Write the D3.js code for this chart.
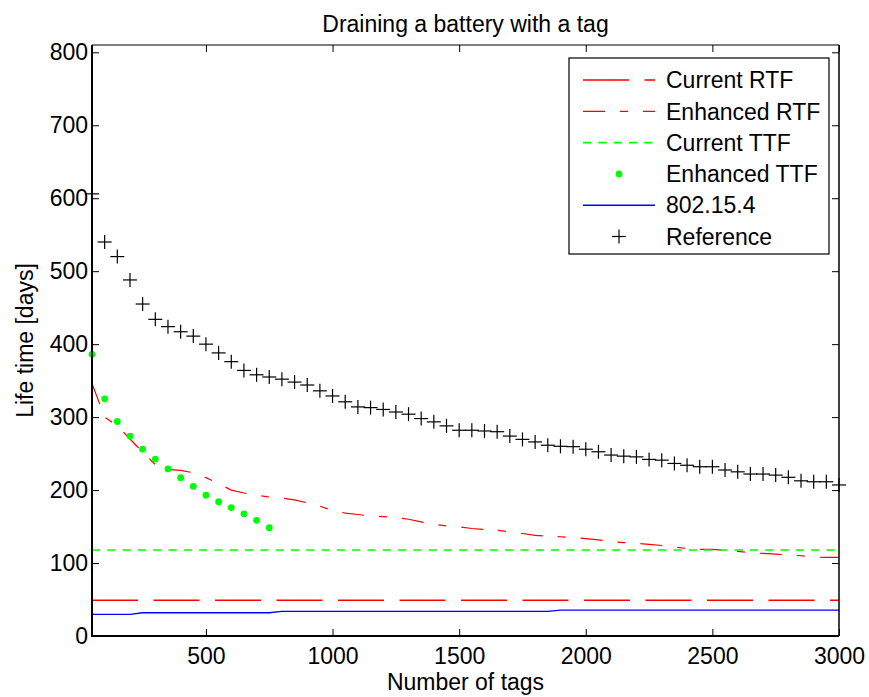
<!DOCTYPE html>
<html>
<head>
<meta charset="utf-8">
<script src="https://cdn.jsdelivr.net/npm/d3@7"></script>
<style>
  html, body { margin: 0; padding: 0; background: #fff; }
  svg { display: block; }
  text { font-family: "Liberation Sans", Arial, Helvetica, sans-serif; fill: #000; }
</style>
</head>
<body>
<svg id="chart" width="869" height="697"></svg>
<script>
// ---------------- DATA ----------------
const chartTitle = "Draining a battery with a tag";
const xLabel = "Number of tags";
const yLabel = "Life time [days]";

const xTicks = [500, 1000, 1500, 2000, 2500, 3000];
const yTicks = [0, 100, 200, 300, 400, 500, 600, 700, 800];

const seriesNames = ["Current RTF", "Enhanced RTF", "Current TTF", "Enhanced TTF", "802.15.4", "Reference"];

// Reference (+ markers)
const refTags = [50,100,150,200,250,300,350,400,450,500,550,600,650,700,750,800,850,900,950,1000,
  1050,1100,1150,1200,1250,1300,1350,1400,1450,1500,1550,1600,1650,1700,1750,1800,1850,1900,1950,2000,
  2050,2100,2150,2200,2250,2300,2350,2400,2450,2500,2550,2600,2650,2700,2750,2800,2850,2900,2950,3000];
const refLife = [606,540,520,488,455,434,424,417,411,400,388,376,364,358,355,352,348,344,336,329,
  321,314,313,310.5,307,304,298,293.5,288,282,282,281,280,274,269.5,266,261.5,260,259.5,256,
  252.5,248,246.5,245.5,242,241,236.5,234,232,232,227.5,225,222,222,220.5,217.5,212.7,211.4,211.4,207];

// Enhanced RTF (dash-dot red)
const eRtfTags = [50,100,150,200,250,300,350,400,450,500,550,600,650,700,750,800,850,900,950,1000,
  1050,1100,1150,1200,1250,1300,1350,1400,1450,1500,1550,1600,1650,1700,1750,1800,1850,1900,1950,2000,
  2050,2100,2150,2200,2250,2300,2350,2400,2450,2500,2550,2600,2650,2700,2750,2800,2850,2900,2950,3000];
const eRtfLife = [346,300,288,270,252,235,228,227,223.7,217,209,200,196,193,190.5,189,186.5,182.5,178,172,
  168.5,166.5,164.5,163.6,162.5,160,156.5,153,150.8,149.5,147.3,146,144.8,142.8,140.5,138,136.5,136,134.8,133.5,
  131.8,129.5,128,127,125.6,124,122,120,118.8,118.8,117.5,116,114,113.2,112.3,111,110,108,107.8,107.8];

// Enhanced TTF (green dots)
const eTtfTags = [50,100,150,200,250,300,350,400,450,500,550,600,650,700,750];
const eTtfLife = [386,325,294,274,256,242.5,229,217,205,193,184,176,167.5,158.5,148.5];

// Current RTF (long-dashed red) and Current TTF (dashed green): constant lines
const cRtfTags = [50, 3000];
const cRtfLife = [49, 49];
const cTtfTags = [50, 3000];
const cTtfLife = [117.8, 117.8];

// 802.15.4 (blue solid)
const zbTags = [50, 200, 250, 750, 800, 1850, 1900, 3000];
const zbLife = [29.7, 29.7, 31.8, 31.8, 33.8, 33.8, 35.5, 35.5];

// ---------------- CHART ----------------
const svg = d3.select("#chart");
const plot = { left: 92, right: 839, top: 45, bottom: 636 };

const x = d3.scaleLinear().domain([50, 3000]).range([plot.left, plot.right]);
const y = d3.scaleLinear().domain([0, 810]).range([plot.bottom, plot.top]);

const FS = 23;

// Axes (ticks inward on all four sides)
const gB = svg.append("g").attr("transform", `translate(0,${plot.bottom})`)
  .call(d3.axisBottom(x).tickValues(xTicks).tickSize(-7).tickPadding(12).tickFormat(d3.format("d")));
const gT = svg.append("g").attr("transform", `translate(0,${plot.top})`)
  .call(d3.axisTop(x).tickValues(xTicks).tickSize(-7).tickFormat(""));
const gL = svg.append("g").attr("transform", `translate(${plot.left},0)`)
  .call(d3.axisLeft(y).tickValues(yTicks).tickSize(-7).tickPadding(4).tickFormat(d3.format("d")));
const gR = svg.append("g").attr("transform", `translate(${plot.right},0)`)
  .call(d3.axisRight(y).tickValues(yTicks).tickSize(-7).tickFormat(""));

[gB, gT, gL, gR].forEach(g => {
  g.select(".domain").remove();
  g.selectAll(".tick line").attr("stroke", "#000").attr("stroke-width", 1);
  g.selectAll(".tick text").style("font-size", FS + "px").attr("fill", "#000")
    .style("font-family", '"Liberation Sans", Arial, sans-serif');
});

// Data lines
const line = d3.line().x(d => x(d[0])).y(d => y(d[1]));

svg.append("path").datum(d3.zip(cRtfTags, cRtfLife)).attr("d", line)
  .attr("fill", "none").attr("stroke", "#ff0000").attr("stroke-width", 1.6)
  .attr("stroke-dasharray", "46,15.5");

svg.append("path").datum(d3.zip(eRtfTags, eRtfLife)).attr("d", line)
  .attr("fill", "none").attr("stroke", "#ff0000").attr("stroke-width", 1.2)
  .attr("stroke-dasharray", "22,15,8,15");

svg.append("path").datum(d3.zip(cTtfTags, cTtfLife)).attr("d", line)
  .attr("fill", "none").attr("stroke", "#00ff00").attr("stroke-width", 1.6)
  .attr("stroke-dasharray", "8.3,7");

svg.append("path").datum(d3.zip(zbTags, zbLife)).attr("d", line)
  .attr("fill", "none").attr("stroke", "#0000ff").attr("stroke-width", 1.4);

svg.append("g").selectAll("circle").data(d3.zip(eTtfTags, eTtfLife)).join("circle")
  .attr("cx", d => x(d[0])).attr("cy", d => y(d[1])).attr("r", 3.4)
  .attr("fill", "#00ff00");

const plus = (g, cx, cy, h) => {
  g.append("line").attr("x1", cx - h).attr("x2", cx + h).attr("y1", cy).attr("y2", cy);
  g.append("line").attr("x1", cx).attr("x2", cx).attr("y1", cy - h).attr("y2", cy + h);
};
const gRef = svg.append("g").attr("stroke", "#000").attr("stroke-width", 1.2);
d3.zip(refTags, refLife).forEach(d => plus(gRef, x(d[0]), y(d[1]), 7));

// Box
svg.append("line").attr("x1", plot.left).attr("x2", plot.right).attr("y1", plot.top).attr("y2", plot.top)
  .attr("stroke", "#000").attr("stroke-width", 1.2);
svg.append("line").attr("x1", plot.right).attr("x2", plot.right).attr("y1", plot.top).attr("y2", plot.bottom)
  .attr("stroke", "#000").attr("stroke-width", 1.5);
svg.append("line").attr("x1", plot.left).attr("x2", plot.left).attr("y1", plot.top).attr("y2", plot.bottom + 1)
  .attr("stroke", "#000").attr("stroke-width", 2);
svg.append("line").attr("x1", plot.left - 1).attr("x2", plot.right).attr("y1", plot.bottom).attr("y2", plot.bottom)
  .attr("stroke", "#000").attr("stroke-width", 2);

// Titles
svg.append("text").attr("x", (plot.left + plot.right) / 2).attr("y", 32)
  .attr("text-anchor", "middle").style("font-size", "23px").text(chartTitle);
svg.append("text").attr("x", (plot.left + plot.right) / 2).attr("y", 690)
  .attr("text-anchor", "middle").style("font-size", FS + "px").text(xLabel);
svg.append("text").attr("transform", `translate(33,${(plot.top + plot.bottom) / 2}) rotate(-90)`)
  .attr("text-anchor", "middle").style("font-size", FS + "px").text(yLabel);

// Legend
const lg = { x: 569, y: 58, w: 260, h: 196 };
svg.append("rect").attr("x", lg.x).attr("y", lg.y).attr("width", lg.w).attr("height", lg.h)
  .attr("fill", "#fff").attr("stroke", "#000").attr("stroke-width", 1.2);

const rowY = i => 80 + i * 31.3;
const lx1 = 583, lx2 = 655, ltx = 666;
const legendStyles = [
  { type: "line", color: "#ff0000", dash: "46,15.5", w: 1.4 },
  { type: "line", color: "#ff0000", dash: "22,15,8,15", w: 1.2 },
  { type: "line", color: "#00ff00", dash: "8.3,7", w: 1.6 },
  { type: "dot", color: "#00ff00" },
  { type: "line", color: "#0000ff", dash: null, w: 1.4 },
  { type: "plus", color: "#000" }
];
seriesNames.forEach((name, i) => {
  const s = legendStyles[i];
  const yy = rowY(i);
  if (s.type === "line") {
    const l = svg.append("line").attr("x1", lx1).attr("x2", lx2).attr("y1", yy).attr("y2", yy)
      .attr("stroke", s.color).attr("stroke-width", s.w);
    if (s.dash) l.attr("stroke-dasharray", s.dash);
  } else if (s.type === "dot") {
    svg.append("circle").attr("cx", (lx1 + lx2) / 2).attr("cy", yy).attr("r", 3.4).attr("fill", s.color);
  } else {
    const g = svg.append("g").attr("stroke", "#000").attr("stroke-width", 1.2);
    plus(g, (lx1 + lx2) / 2, yy, 7);
  }
  svg.append("text").attr("x", ltx).attr("y", yy).attr("dy", "0.36em")
    .style("font-size", FS + "px").text(name);
});
</script>
</body>
</html>
